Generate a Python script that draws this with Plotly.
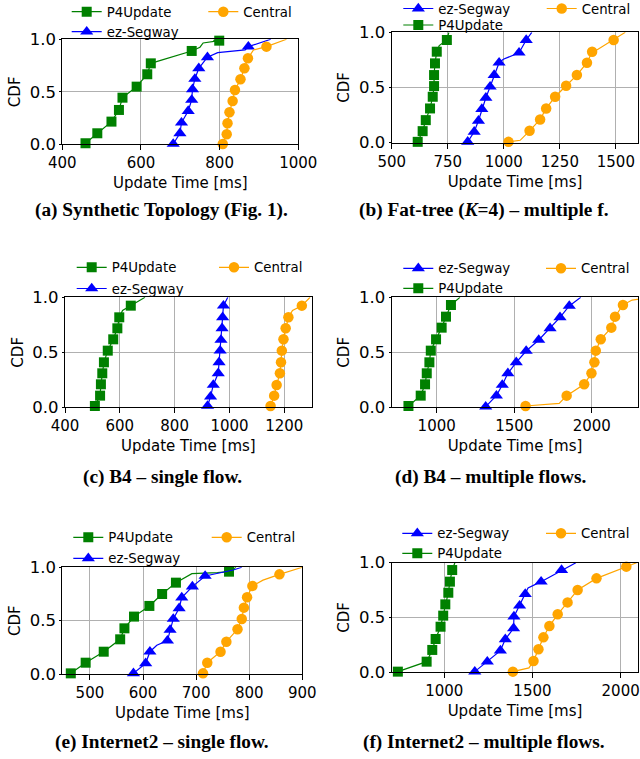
import plotly.graph_objects as go

W, H = 640, 759
GREEN, BLUE, ORANGE = "#008000", "#0000ff", "#ffa500"

# ---------------- data ----------------
Y_TICKS = [0.0, 0.5, 1.0]
Y_TICK_LABELS = ["0.0", "0.5", "1.0"]
X_TITLE = "Update Time [ms]"
Y_TITLE = "CDF"

# (a) Synthetic topology
A_TICKS = [400, 600, 800, 1000]
A_P4_X = [459, 489, 525, 544, 553, 589, 616, 625, 729, 799]
A_P4_Y = [0.01, 0.105, 0.216, 0.327, 0.444, 0.549, 0.667, 0.771, 0.889, 0.987]
A_P4_EX = [750, 758, 784, 805]
A_P4_EY = [0.925, 0.965, 0.99, 1.0]
A_EZ_X = [682, 699, 703, 720, 729, 731, 737, 747, 769, 873]
A_EZ_Y = [0.003, 0.105, 0.206, 0.317, 0.422, 0.524, 0.622, 0.724, 0.829, 0.930]
A_EZ_EX = [795, 865, 930]
A_EZ_EY = [0.873, 0.9, 1.0]
A_CE_X = [808, 818, 820, 825, 833, 839, 853, 863, 872, 919]
A_CE_Y = [0.003, 0.095, 0.2, 0.305, 0.413, 0.517, 0.619, 0.724, 0.819, 0.93]
A_CE_EX = [886, 970]
A_CE_EY = [0.898, 1.0]

# (b) Fat-tree multiple flows
B_TICKS = [500, 750, 1000, 1250, 1500]
B_P4_X = [616, 638, 652, 671, 683, 689, 689, 693, 701, 746]
B_P4_Y = [0.006, 0.103, 0.203, 0.309, 0.415, 0.512, 0.612, 0.718, 0.824, 0.930]
B_P4_EX = [712, 755]
B_P4_EY = [0.88, 1.0]
B_EZ_X = [839, 868, 887, 902, 920, 939, 957, 979, 1068, 1100]
B_EZ_Y = [0.006, 0.097, 0.197, 0.303, 0.406, 0.506, 0.612, 0.724, 0.815, 0.930]
B_EZ_EX = [998, 1125]
B_EZ_EY = [0.755, 1.0]
B_CE_X = [1021, 1115, 1162, 1189, 1229, 1278, 1326, 1371, 1394, 1490]
B_CE_Y = [0.006, 0.106, 0.209, 0.309, 0.415, 0.515, 0.612, 0.724, 0.824, 0.930]
B_CE_EX = [1073, 1415, 1542]
B_CE_EY = [0.02, 0.84, 1.0]

# (c) B4 single flow
C_TICKS = [400, 600, 800, 1000, 1200]
C_P4_X = [509, 528, 531, 536, 542, 556, 576, 591, 598, 640]
C_P4_Y = [0.012, 0.106, 0.209, 0.309, 0.409, 0.515, 0.618, 0.718, 0.818, 0.924]
C_P4_EX = [610, 692]
C_P4_EY = [0.88, 1.0]
C_EZ_X = [920, 931, 941, 959, 962, 966, 969, 973, 975, 978]
C_EZ_Y = [0.012, 0.097, 0.203, 0.309, 0.409, 0.515, 0.612, 0.718, 0.818, 0.924]
C_EZ_EX = [994]
C_EZ_EY = [1.0]
C_CE_X = [1150, 1163, 1172, 1184, 1188, 1191, 1197, 1205, 1215, 1264]
C_CE_Y = [0.012, 0.106, 0.203, 0.309, 0.409, 0.515, 0.618, 0.718, 0.818, 0.924]
C_CE_EX = [1230, 1294]
C_CE_EY = [0.88, 1.0]

# (d) B4 multiple flows
D_TICKS = [1000, 1500, 2000]
D_P4_X = [818, 897, 925, 936, 953, 962, 996, 1032, 1060, 1092]
D_P4_Y = [0.012, 0.106, 0.209, 0.309, 0.409, 0.515, 0.618, 0.724, 0.824, 0.930]
D_P4_EX = [1150]
D_P4_EY = [1.0]
D_EZ_X = [1316, 1385, 1423, 1459, 1513, 1577, 1658, 1731, 1795, 1855]
D_EZ_Y = [0.006, 0.106, 0.203, 0.309, 0.409, 0.512, 0.612, 0.718, 0.818, 0.921]
D_EZ_EX = [1929]
D_EZ_EY = [1.0]
D_CE_X = [1573, 1838, 1951, 1998, 2017, 2026, 2058, 2126, 2150, 2201]
D_CE_Y = [0.012, 0.106, 0.209, 0.309, 0.409, 0.515, 0.618, 0.724, 0.824, 0.930]
D_CE_EX = [1790, 2260, 2400]
D_CE_EY = [0.036, 0.975, 1.0]

# (e) Internet2 single flow
E_TICKS = [500, 600, 700, 800, 900]
E_P4_X = [464, 492, 526, 557, 565, 583, 612, 636, 662, 762]
E_P4_Y = [0.006, 0.106, 0.209, 0.325, 0.428, 0.538, 0.638, 0.75, 0.856, 0.959]
E_P4_EX = [692, 740, 775]
E_P4_EY = [0.94, 0.95, 1.0]
E_EZ_X = [582, 605, 613, 646, 651, 657, 668, 673, 693, 717]
E_EZ_Y = [0.006, 0.1, 0.209, 0.3125, 0.4125, 0.516, 0.616, 0.716, 0.819, 0.919]
E_EZ_EX = [626, 770, 786]
E_EZ_EY = [0.27, 0.975, 1.0]
E_CE_X = [713, 721, 746, 757, 778, 786, 790, 796, 806, 857]
E_CE_Y = [0.006, 0.106, 0.209, 0.303, 0.419, 0.516, 0.622, 0.719, 0.825, 0.934]
E_CE_EX = [826, 900]
E_CE_EY = [0.88, 1.0]

# (f) Internet2 multiple flows
F_TICKS = [1000, 1500, 2000]
F_P4_X = [737, 900, 932, 951, 979, 994, 1006, 1023, 1032, 1045]
F_P4_Y = [0.006, 0.097, 0.204, 0.304, 0.416, 0.517, 0.62, 0.726, 0.827, 0.933]
F_P4_EX = [1060]
F_P4_EY = [1.0]
F_EZ_X = [1173, 1244, 1318, 1346, 1393, 1395, 1427, 1459, 1549, 1665]
F_EZ_Y = [0.006, 0.097, 0.198, 0.301, 0.401, 0.508, 0.608, 0.714, 0.827, 0.933]
F_EZ_EX = [1475, 1746]
F_EZ_EY = [0.77, 1.0]
F_CE_X = [1389, 1506, 1534, 1562, 1596, 1643, 1699, 1756, 1863, 2032]
F_CE_Y = [0.006, 0.103, 0.21, 0.319, 0.422, 0.529, 0.638, 0.751, 0.857, 0.964]
F_CE_EX = [1480, 2090]
F_CE_EY = [0.04, 1.0]

CAPTIONS = [
    "(a) Synthetic Topology (Fig. 1).",
    "(b) Fat-tree (<i>K</i>=4) – multiple f.",
    "(c) B4 – single flow.",
    "(d) B4 – multiple flows.",
    "(e) Internet2 – single flow.",
    "(f) Internet2 – multiple flows.",
]
NAMES = {"p4": "P4Update", "ez": "ez-Segway", "ce": "Central"}

# ---------------- styles / layout ----------------
STYLE = {
    "p4": dict(color=GREEN, symbol="square", size=10),
    "ez": dict(color=BLUE, symbol="triangle-up", size=11.5),
    "ce": dict(color=ORANGE, symbol="circle", size=10.5),
}

# legend item placement: key -> (text start x px, row centre y px), in legend order
panels = [
    dict(box=(62.3, 39.3, 298.3, 144.3), rng=[400, 1000], ticks=A_TICKS,
         data={"p4": (A_P4_X, A_P4_Y, A_P4_EX, A_P4_EY), "ez": (A_EZ_X, A_EZ_Y, A_EZ_EX, A_EZ_EY),
               "ce": (A_CE_X, A_CE_Y, A_CE_EX, A_CE_EY)},
         leg=[("p4", 106.7, 11.7), ("ez", 106.7, 31.7), ("ce", 243.3, 11.7)], cap=(161.5, 210)),
    dict(box=(391.7, 32.3, 638.3, 142.5), rng=[500, 1600], ticks=B_TICKS,
         data={"p4": (B_P4_X, B_P4_Y, B_P4_EX, B_P4_EY), "ez": (B_EZ_X, B_EZ_Y, B_EZ_EX, B_EZ_EY),
               "ce": (B_CE_X, B_CE_Y, B_CE_EX, B_CE_EY)},
         leg=[("ez", 438.3, 8.5), ("p4", 438.3, 25.0), ("ce", 581.7, 8.5)], cap=(483.5, 210)),
    dict(box=(65.0, 297.3, 311.7, 407.3), rng=[400, 1300], ticks=C_TICKS,
         data={"p4": (C_P4_X, C_P4_Y, C_P4_EX, C_P4_EY), "ez": (C_EZ_X, C_EZ_Y, C_EZ_EX, C_EZ_EY),
               "ce": (C_CE_X, C_CE_Y, C_CE_EX, C_CE_EY)},
         leg=[("p4", 111.7, 267.3), ("ez", 111.7, 288.5), ("ce", 254.0, 267.3)], cap=(162.5, 477)),
    dict(box=(391.7, 297.3, 638.3, 407.3), rng=[710, 2300], ticks=D_TICKS,
         data={"p4": (D_P4_X, D_P4_Y, D_P4_EX, D_P4_EY), "ez": (D_EZ_X, D_EZ_Y, D_EZ_EX, D_EZ_EY),
               "ce": (D_CE_X, D_CE_Y, D_CE_EX, D_CE_EY)},
         leg=[("ez", 438.3, 268.3), ("p4", 438.3, 288.3), ("ce", 581.0, 268.3)], cap=(490, 477)),
    dict(box=(62.3, 567.3, 302.3, 674.0), rng=[448, 900], ticks=E_TICKS,
         data={"p4": (E_P4_X, E_P4_Y, E_P4_EX, E_P4_EY), "ez": (E_EZ_X, E_EZ_Y, E_EZ_EX, E_EZ_EY),
               "ce": (E_CE_X, E_CE_Y, E_CE_EX, E_CE_EY)},
         leg=[("p4", 108.3, 537.3), ("ez", 108.3, 558.3), ("ce", 246.7, 537.3)], cap=(162, 742)),
    dict(box=(391.7, 562.7, 638.3, 672.3), rng=[702, 2100], ticks=F_TICKS,
         data={"p4": (F_P4_X, F_P4_Y, F_P4_EX, F_P4_EY), "ez": (F_EZ_X, F_EZ_Y, F_EZ_EX, F_EZ_EY),
               "ce": (F_CE_X, F_CE_Y, F_CE_EX, F_CE_EY)},
         leg=[("ez", 437.3, 533.3), ("p4", 437.3, 553.3), ("ce", 581.0, 533.3)], cap=(484, 742)),
]

XTICKFONT = dict(family="DejaVu Sans", size=15, color="black")
YTICKFONT = dict(family="DejaVu Sans", size=16.5, color="black")
TITLEFONT = dict(family="DejaVu Sans", size=15, color="black")
LEGFONT = dict(family="DejaVu Sans", size=13.3, color="black")
FIRST_ROW_OFFSET = 15.15  # plotly: legend row centre below legend top
TEXT_OFFSET = 40          # plotly: legend text start right of legend x

fig = go.Figure()
layout = dict(width=W, height=H, margin=dict(l=0, r=0, t=0, b=0, autoexpand=False),
              paper_bgcolor="white", plot_bgcolor="white", showlegend=True,
              annotations=[])

for i, p in enumerate(panels):
    n = i + 1
    sfx = "" if n == 1 else str(n)
    xa, ya = "x" + sfx, "y" + sfx
    l, t, r, b = p["box"]

    for key in ["p4", "ez", "ce"]:
        mx, my, ex, ey = p["data"][key]
        st = STYLE[key]
        pts = sorted(zip(mx + ex, my + ey), key=lambda q: (q[1], q[0]))
        fig.add_trace(go.Scatter(x=[q[0] for q in pts], y=[q[1] for q in pts], mode="lines",
                                 line=dict(color=st["color"], width=1.2), xaxis=xa, yaxis=ya,
                                 showlegend=False, hoverinfo="skip"))
        fig.add_trace(go.Scatter(x=mx, y=my, mode="markers", cliponaxis=False,
                                 marker=dict(color=st["color"], symbol=st["symbol"], size=st["size"],
                                             line=dict(width=0)),
                                 xaxis=xa, yaxis=ya, showlegend=False, hoverinfo="skip"))

    # one small legend per entry so each entry sits where the reference has it
    for k, (key, tx, ty) in enumerate(p["leg"]):
        idx = 3 * i + k + 1
        lg = "legend" if idx == 1 else f"legend{idx}"
        st = STYLE[key]
        fig.add_trace(go.Scatter(x=[None], y=[None], mode="lines+markers", name=NAMES[key],
                                 line=dict(color=st["color"], width=1.2),
                                 marker=dict(color=st["color"], symbol=st["symbol"], size=st["size"]),
                                 xaxis=xa, yaxis=ya, legend=lg, hoverinfo="skip"))
        layout[lg] = dict(x=(tx - TEXT_OFFSET) / W, y=1 - (ty - FIRST_ROW_OFFSET) / H,
                          xanchor="left", yanchor="top", orientation="v",
                          bgcolor="rgba(0,0,0,0)", borderwidth=0, font=LEGFONT,
                          tracegroupgap=0, itemwidth=30)

    layout["xaxis" + sfx] = dict(
        domain=[l / W, r / W], range=p["rng"], anchor=ya, tickvals=p["ticks"],
        ticks="outside", ticklen=5, tickwidth=1, tickcolor="black",
        showline=True, linecolor="black", linewidth=1.2, mirror=True,
        showgrid=True, gridcolor="#b0b0b0", gridwidth=1, zeroline=False,
        tickfont=XTICKFONT, automargin=False,
        title=dict(text=X_TITLE, font=TITLEFONT, standoff=6))
    layout["yaxis" + sfx] = dict(
        domain=[1 - b / H, 1 - t / H], range=[0, 1], anchor=xa,
        tickvals=Y_TICKS, ticktext=Y_TICK_LABELS,
        ticks="outside", ticklen=2, tickwidth=1, tickcolor="black",
        showline=True, linecolor="black", linewidth=1.2, mirror=True,
        showgrid=True, gridcolor="#b0b0b0", gridwidth=1, zeroline=False,
        tickfont=YTICKFONT, automargin=False,
        title=dict(text=Y_TITLE, font=TITLEFONT, standoff=5))

    cx, cy = p["cap"]
    layout["annotations"].append(dict(
        text="<b>" + CAPTIONS[i] + "</b>", x=cx / W, y=1 - cy / H, xref="paper", yref="paper",
        xanchor="center", yanchor="middle", showarrow=False,
        font=dict(family="Liberation Serif", size=19.3, color="black")))

fig.update_layout(**layout)
# remove the browser's default 8px page margin so the figure sits at the window origin
fig.write_html("out.html", config={"displayModeBar": False},
               post_script="document.body.style.margin='0';document.body.style.padding='0';")
